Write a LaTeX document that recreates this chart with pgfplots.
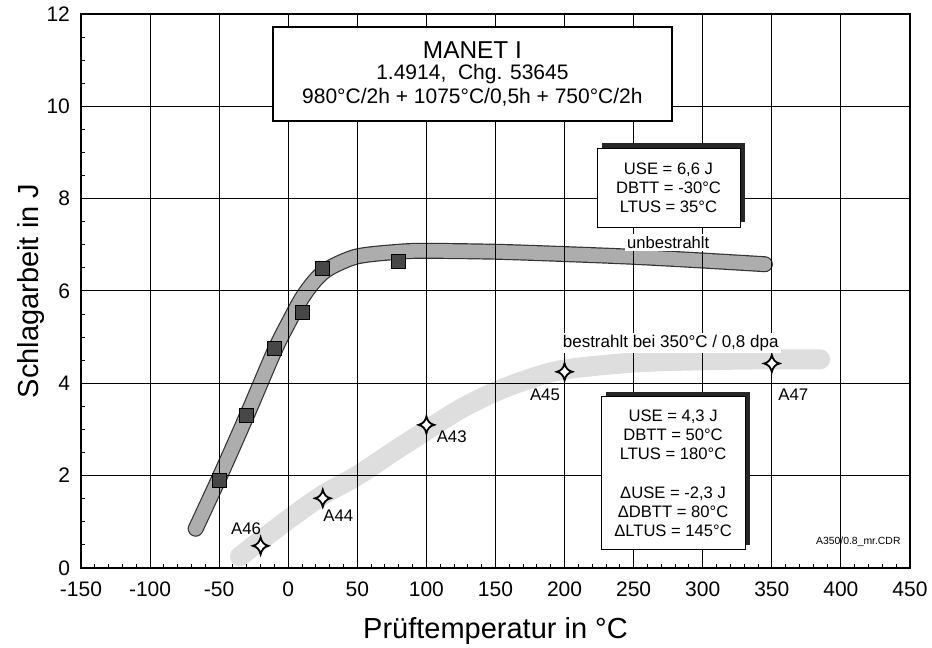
\documentclass[border=0pt]{standalone}
\usepackage{fontspec}
\setmainfont{Liberation Sans}
\usepackage{pgfplots}
\pgfplotsset{compat=1.18}
\usetikzlibrary{shadows}

\pgfdeclareplotmark{star4}{%
  \pgfpathmoveto{\pgfqpoint{0pt}{1.1\pgfplotmarksize}}%
  \pgfpathcurveto{\pgfqpoint{0.12\pgfplotmarksize}{0.5\pgfplotmarksize}}{\pgfqpoint{0.45\pgfplotmarksize}{0.12\pgfplotmarksize}}{\pgfqpoint{\pgfplotmarksize}{0pt}}%
  \pgfpathcurveto{\pgfqpoint{0.45\pgfplotmarksize}{-0.12\pgfplotmarksize}}{\pgfqpoint{0.12\pgfplotmarksize}{-0.5\pgfplotmarksize}}{\pgfqpoint{0pt}{-1.1\pgfplotmarksize}}%
  \pgfpathcurveto{\pgfqpoint{-0.12\pgfplotmarksize}{-0.5\pgfplotmarksize}}{\pgfqpoint{-0.45\pgfplotmarksize}{-0.12\pgfplotmarksize}}{\pgfqpoint{-\pgfplotmarksize}{0pt}}%
  \pgfpathcurveto{\pgfqpoint{-0.45\pgfplotmarksize}{0.12\pgfplotmarksize}}{\pgfqpoint{-0.12\pgfplotmarksize}{0.5\pgfplotmarksize}}{\pgfqpoint{0pt}{1.1\pgfplotmarksize}}%
  \pgfpathclose
  \pgfusepathqfillstroke
}

\begin{document}
\begin{tikzpicture}
\begin{axis}[
  name=ax, at={(0,0)}, anchor=south west,
  scale only axis, width=414.5pt, height=277pt,
  xmin=-150, xmax=450, ymin=0, ymax=12,
  xtick={-150,-100,...,450}, ytick={0,2,...,12},
  minor x tick num=4, minor y tick num=3,
  grid=major, major grid style={black, line width=0.5pt},
  tick pos=left, tick align=inside,
  major tick length=3pt, minor tick length=2.2pt,
  tick style={black, line width=0.5pt},
  axis line style={line width=0.6pt},
  axis on top,
  tick label style={font=\fontsize{10.5}{12}\selectfont},
  /pgf/number format/assume math mode=true,
  xticklabel style={yshift=-3.5pt},
  yticklabel style={xshift=-2pt},
  xlabel={Prüftemperatur in °C}, ylabel={Schlagarbeit in J},
  label style={font=\fontsize{14.5}{17}\selectfont},
  xlabel style={at={(axis description cs:0.5,-0.1264)}, anchor=base},
  ylabel style={at={(axis description cs:-0.0507,0.5)}, anchor=base},
]
% irradiated band
\addplot[black!13, line width=10pt, line cap=round, smooth, no marks] coordinates {
 (-35,0.25) (0,1.05) (25,1.58) (50,2.0) (75,2.5) (100,2.98) (125,3.45) (150,3.82) (175,4.1) (200,4.3) (250,4.45) (300,4.5) (350,4.52) (385,4.52)};
% unirradiated band (outline + fill)
\addplot[black!80, line width=8pt, line cap=round, smooth, no marks] coordinates {
 (-67,0.85) (-50,1.95) (-30,3.3) (-10,4.7) (0,5.3) (10,5.85) (20,6.25) (30,6.5) (50,6.75) (80,6.85) (100,6.87) (150,6.85) (200,6.8) (250,6.74) (300,6.66) (345,6.58)};
\addplot[black!32, line width=6.8pt, line cap=round, smooth, no marks] coordinates {
 (-67,0.85) (-50,1.95) (-30,3.3) (-10,4.7) (0,5.3) (10,5.85) (20,6.25) (30,6.5) (50,6.75) (80,6.85) (100,6.87) (150,6.85) (200,6.8) (250,6.74) (300,6.66) (345,6.58)};
% unirradiated data
\addplot[only marks, mark=square*, mark size=3.5pt, mark options={fill=black!72, draw=black, line width=0.4pt}] coordinates {
 (-50,1.9) (-30,3.3) (-10,4.76) (10,5.54) (25,6.49) (80,6.65)};
% irradiated data
\addplot[only marks, mark=star4, mark size=3.9pt, mark options={fill=white, draw=black, line width=0.9pt}] coordinates {
 (-20,0.48) (25,1.51) (100,3.1) (200,4.25) (350,4.43)};
\coordinate (tb) at (axis cs:133.3,10.70);
\coordinate (b2) at (axis cs:275.2,8.24);
\coordinate (b3) at (axis cs:278.5,2.05);
\coordinate (lu) at (axis cs:275,7.05);
\coordinate (li) at (axis cs:276.8,4.87);
\coordinate (a45) at (axis cs:185.8,3.75);
\coordinate (a47) at (axis cs:365.5,3.75);
\coordinate (a43) at (axis cs:118.3,2.84);
\coordinate (a44) at (axis cs:36.2,1.13);
\coordinate (a46) at (axis cs:-30.5,0.85);
\coordinate (cdr) at (axis cs:412.6,0.57);
\end{axis}
\node[draw=black, line width=0.7pt, fill=white, minimum width=199.5pt, minimum height=47pt, align=center, inner sep=0pt,
  font=\fontsize{10.5}{11}\selectfont] at (tb)
  {{\fontsize{12.2}{12}\selectfont MANET I}\\[-0.5pt]1.4914,\ \ Chg. 53645\\[1.2pt]980°C/2h + 1075°C/0,5h + 750°C/2h};
\node[draw=black, line width=0.4pt, fill=white, minimum width=71.5pt, minimum height=39.5pt, align=center, inner sep=0pt,
  font=\fontsize{8.3}{9.5}\selectfont,
  drop shadow={shadow xshift=2.7pt, shadow yshift=2.7pt, fill=black!85, opacity=1}] at (b2)
  {USE = 6,6 J\\DBTT = -30°C\\LTUS = 35°C};
\node[draw=black, line width=0.4pt, fill=white, minimum width=72pt, minimum height=76.5pt, align=center, inner sep=0pt,
  font=\fontsize{8.3}{9.65}\selectfont,
  drop shadow={shadow xshift=2.5pt, shadow yshift=2.5pt, fill=black!85, opacity=1}] at (b3)
  {USE = 4,3 J\\DBTT = 50°C\\LTUS = 180°C\\[9.65pt]ΔUSE = -2,3 J\\ΔDBTT = 80°C\\ΔLTUS = 145°C};
\node[fill=white, inner sep=1pt, font=\fontsize{8.3}{10}\selectfont] at (lu) {unbestrahlt};
\node[fill=white, inner sep=1pt, font=\fontsize{8.5}{10}\selectfont] at (li) {bestrahlt bei 350°C / 0,8 dpa};
\begin{scope}[every node/.style={inner sep=0.5pt, font=\fontsize{8.4}{10}\selectfont}]
\node at (a45) {A45};
\node at (a47) {A47};
\node at (a43) {A43};
\node at (a44) {A44};
\node at (a46) {A46};
\end{scope}
\node[inner sep=0pt, font=\fontsize{5.2}{6}\selectfont] at (cdr) {A350/0.8\_mr.CDR};
\pgfresetboundingbox
\path (-40.5pt,-40pt) rectangle (425.5pt,284pt);
\end{tikzpicture}
\end{document}
